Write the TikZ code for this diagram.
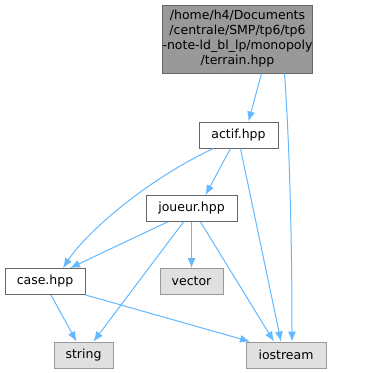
\documentclass[tikz,border=0pt]{standalone}
\usepackage{fontspec}
\setmainfont{DejaVu Sans}
\usetikzlibrary{positioning, arrows.meta}

\definecolor{edgeblue}{HTML}{63B8FF}
\definecolor{sysfill}{HTML}{E0E0E0}
\definecolor{topfill}{HTML}{999999}

\begin{document}
\begin{tikzpicture}[
    x=1pt, y=-1pt,
    every node/.style={
        draw=black!60,
        rectangle,
        font=\fontsize{12.5}{15}\selectfont,
        text centered,
        inner sep=0pt,
        line width=0.9pt,
        minimum height=26pt
    },
    sysfile/.style={fill=sysfill, draw=topfill},
    arrow/.style={-{Latex[length=10pt,width=8pt]}, draw=edgeblue, line width=1pt}
]
    \useasboundingbox (0,0) rectangle (373,373);

    \node (terrain) [fill=topfill, minimum width=103pt, minimum height=68pt, align=center]
        at (237.5,39) {/home/h4/Documents\\/centrale/SMP/tp6/tp6\\-note-ld\_bl\_lp/monopoly\\/terrain.hpp};
    \node (actif) [fill=white, minimum width=79pt] at (238.5,135) {actif.hpp};
    \node (joueur) [fill=white, minimum width=91pt] at (191.5,208.5) {joueur.hpp};
    \node (case) [fill=white, minimum width=80pt] at (45,281.5) {case.hpp};
    \node (vector) [sysfile, minimum width=63pt] at (191.5,281.5) {vector};
    \node (string) [sysfile, minimum width=59pt] at (83.5,355) {string};
    \node (iostream) [sysfile, minimum width=80pt] at (286,355) {iostream};

    \draw[arrow] ([xshift=24pt]terrain.south) -- ([xshift=10pt]actif.north);
    \draw[arrow] ([xshift=47pt]terrain.south) .. controls (290,150) and (292,250) .. ([xshift=6pt]iostream.north);
    \draw[arrow] ([xshift=-25pt]actif.south) .. controls (150,178) and (88,230) .. ([xshift=18pt]case.north);
    \draw[arrow] ([xshift=-8pt]actif.south) -- ([xshift=14pt]joueur.north);
    \draw[arrow] ([xshift=2pt]actif.south) -- ([xshift=-5pt]iostream.north);
    \draw[arrow] ([xshift=-24pt]joueur.south) -- ([xshift=25pt]case.north);
    \draw[arrow] ([xshift=-8pt]joueur.south) -- ([xshift=10pt]string.north);
    \draw[arrow] (joueur) -- (vector);
    \draw[arrow] ([xshift=9pt]joueur.south) -- ([xshift=-12pt]iostream.north);
    \draw[arrow] ([xshift=6pt]case.south) -- ([xshift=-7pt]string.north);
    \draw[arrow] (case.south east) -- ([xshift=-36pt]iostream.north);

\end{tikzpicture}
\end{document}
